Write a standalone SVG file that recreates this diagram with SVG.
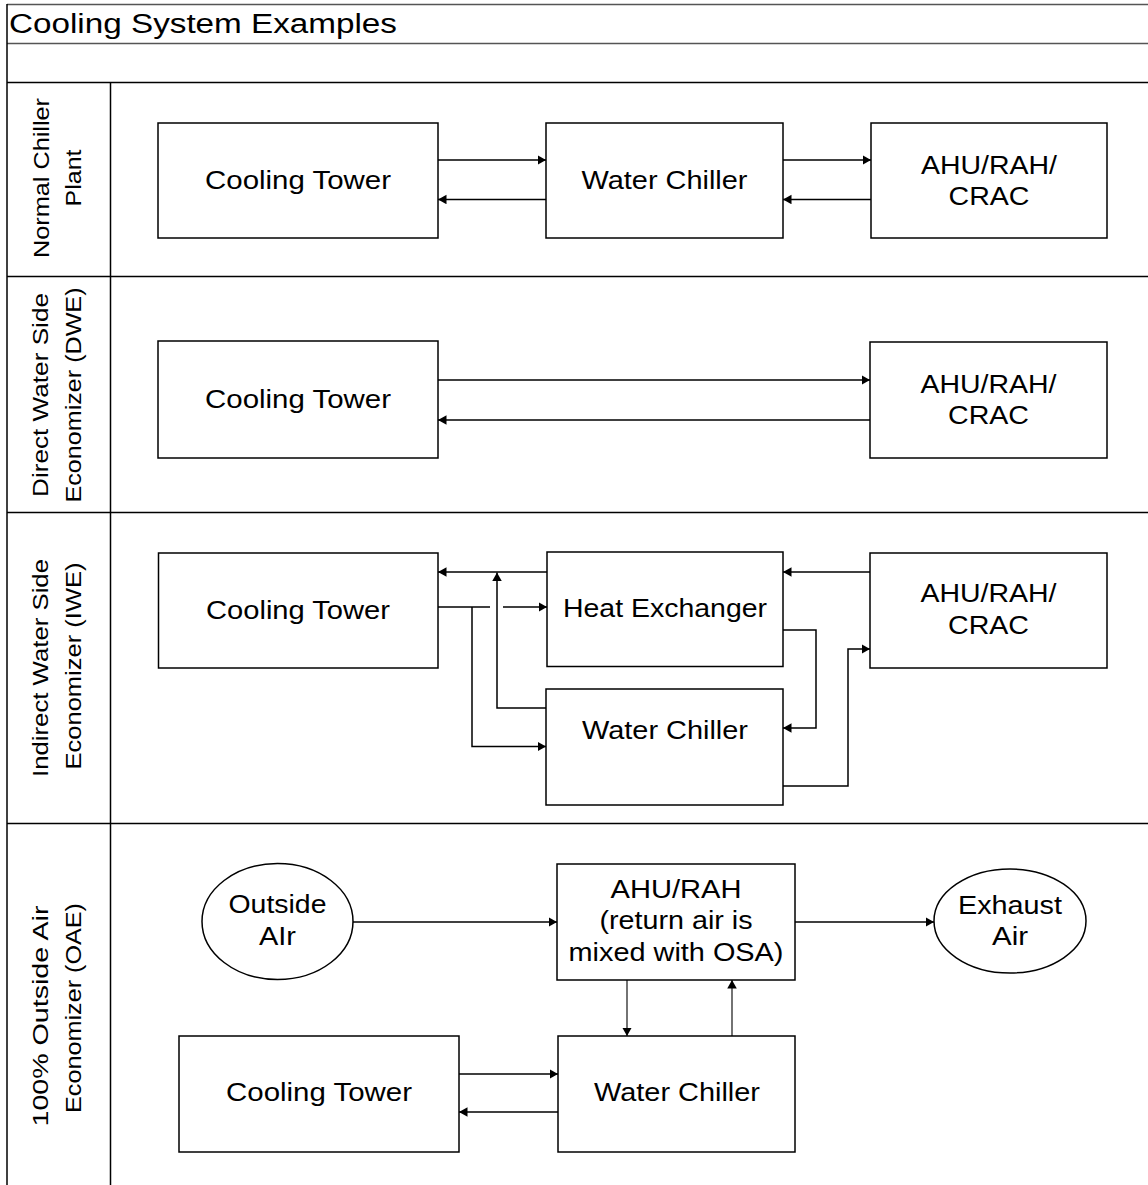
<svg xmlns="http://www.w3.org/2000/svg" width="1148" height="1185" viewBox="0 0 1148 1185">
<defs>
<marker id="ah" markerUnits="userSpaceOnUse" markerWidth="10" markerHeight="10" refX="8.5" refY="4.75" orient="auto">
<path d="M0,0 L8.5,4.75 L0,9.5 z" fill="#000"/>
</marker>
<style>
.frame{stroke:#000;stroke-width:1.5;fill:none}
.hdr{stroke:#555;stroke-width:1.5;fill:none}
.box{fill:#fff;stroke:#000;stroke-width:1.5}
.t{font-family:"Liberation Sans",Arial,sans-serif;font-size:25px;fill:#000;text-anchor:middle}
.lab{font-family:"Liberation Sans",Arial,sans-serif;font-size:22px;fill:#000;text-anchor:middle}
.title{font-family:"Liberation Sans",Arial,sans-serif;font-size:27px;fill:#000}
.c{stroke:#000;stroke-width:1.5;fill:none}
.c1{stroke:#000;stroke-width:1.1;fill:none}
</style>
</defs>
<rect width="1148" height="1185" fill="#fff"/>
<g id="frame">
<line class="hdr" x1="7" y1="4.5" x2="1148" y2="4.5"/>
<line class="hdr" x1="7" y1="43.5" x2="1148" y2="43.5"/>
<line class="frame" x1="7" y1="4" x2="7" y2="1185"/>
<line class="frame" x1="7" y1="82.5" x2="1148" y2="82.5"/>
<line class="frame" x1="110.5" y1="82.5" x2="110.5" y2="1185"/>
<line class="frame" x1="7" y1="276.5" x2="1148" y2="276.5"/>
<line class="frame" x1="7" y1="512.5" x2="1148" y2="512.5"/>
<line class="frame" x1="7" y1="823.5" x2="1148" y2="823.5"/>
<text class="title" x="9" y="32.5" textLength="388" lengthAdjust="spacingAndGlyphs">Cooling System Examples</text>
</g>
<g id="lane-labels">
<text class="lab" transform="translate(48.5,178) rotate(-90)" textLength="160" lengthAdjust="spacingAndGlyphs">Normal Chiller</text>
<text class="lab" transform="translate(81,178) rotate(-90)" textLength="57" lengthAdjust="spacingAndGlyphs">Plant</text>
<text class="lab" transform="translate(48,395) rotate(-90)" textLength="204" lengthAdjust="spacingAndGlyphs">Direct Water Side</text>
<text class="lab" transform="translate(81,395) rotate(-90)" textLength="215" lengthAdjust="spacingAndGlyphs">Economizer (DWE)</text>
<text class="lab" transform="translate(48,668) rotate(-90)" textLength="218" lengthAdjust="spacingAndGlyphs">Indirect Water Side</text>
<text class="lab" transform="translate(81,666) rotate(-90)" textLength="207" lengthAdjust="spacingAndGlyphs">Economizer (IWE)</text>
<text class="lab" transform="translate(48,1016) rotate(-90)" textLength="221" lengthAdjust="spacingAndGlyphs">100% Outside Air</text>
<text class="lab" transform="translate(81,1008) rotate(-90)" textLength="210" lengthAdjust="spacingAndGlyphs">Economizer (OAE)</text>
</g>
<g id="connectors">
<path class="c" d="M438,160 H546" marker-end="url(#ah)"/>
<path class="c" d="M546,199.5 H438" marker-end="url(#ah)"/>
<path class="c" d="M783,160 H871" marker-end="url(#ah)"/>
<path class="c" d="M871,199.5 H783" marker-end="url(#ah)"/>
<path class="c" d="M438,380 H870" marker-end="url(#ah)"/>
<path class="c" d="M870,420 H438" marker-end="url(#ah)"/>
<path class="c" d="M547,572 H438" marker-end="url(#ah)"/>
<path class="c" d="M546,708 H497 V572.5" marker-end="url(#ah)"/>
<path class="c" d="M438,607 H490"/>
<path class="c" d="M503,607 H547" marker-end="url(#ah)"/>
<path class="c" d="M472,607 V746.5 H546" marker-end="url(#ah)"/>
<path class="c" d="M783,630 H816 V728 H783" marker-end="url(#ah)"/>
<path class="c" d="M783,786 H848 V649 H870" marker-end="url(#ah)"/>
<path class="c" d="M870,572 H783" marker-end="url(#ah)"/>
<path class="c" d="M353,922 H557" marker-end="url(#ah)"/>
<path class="c" d="M795,922 H934" marker-end="url(#ah)"/>
<path class="c1" d="M627,980 V1036" marker-end="url(#ah)"/>
<path class="c1" d="M732,1036 V980" marker-end="url(#ah)"/>
<path class="c" d="M459,1074 H558" marker-end="url(#ah)"/>
<path class="c" d="M558,1112 H459" marker-end="url(#ah)"/>
</g>
<g id="ncp-cooling-tower">
<rect class="box" x="158" y="123" width="280" height="115"/>
<text class="t" x="298" y="189" textLength="186" lengthAdjust="spacingAndGlyphs">Cooling Tower</text>
</g>
<g id="ncp-water-chiller">
<rect class="box" x="546" y="123" width="237" height="115"/>
<text class="t" x="664.5" y="189" textLength="166" lengthAdjust="spacingAndGlyphs">Water Chiller</text>
</g>
<g id="ncp-ahu">
<rect class="box" x="871" y="123" width="236" height="115"/>
<text class="t" x="989" y="174" textLength="136" lengthAdjust="spacingAndGlyphs">AHU/RAH/</text>
<text class="t" x="989" y="205" textLength="81" lengthAdjust="spacingAndGlyphs">CRAC</text>
</g>
<g id="dwe-cooling-tower">
<rect class="box" x="158" y="341" width="280" height="117"/>
<text class="t" x="298" y="408" textLength="186" lengthAdjust="spacingAndGlyphs">Cooling Tower</text>
</g>
<g id="dwe-ahu">
<rect class="box" x="870" y="342" width="237" height="116"/>
<text class="t" x="988.5" y="393" textLength="136" lengthAdjust="spacingAndGlyphs">AHU/RAH/</text>
<text class="t" x="988.5" y="424" textLength="81" lengthAdjust="spacingAndGlyphs">CRAC</text>
</g>
<g id="iwe-cooling-tower">
<rect class="box" x="158.5" y="553" width="279.5" height="115"/>
<text class="t" x="298" y="619" textLength="184" lengthAdjust="spacingAndGlyphs">Cooling Tower</text>
</g>
<g id="iwe-heat-exchanger">
<rect class="box" x="547" y="552" width="236" height="114.5"/>
<text class="t" x="665" y="617" textLength="204" lengthAdjust="spacingAndGlyphs">Heat Exchanger</text>
</g>
<g id="iwe-water-chiller">
<rect class="box" x="546" y="689" width="237" height="116"/>
<text class="t" x="665" y="739" textLength="166" lengthAdjust="spacingAndGlyphs">Water Chiller</text>
</g>
<g id="iwe-ahu">
<rect class="box" x="870" y="553" width="237" height="115"/>
<text class="t" x="988.5" y="602" textLength="136" lengthAdjust="spacingAndGlyphs">AHU/RAH/</text>
<text class="t" x="988.5" y="634" textLength="81" lengthAdjust="spacingAndGlyphs">CRAC</text>
</g>
<g id="oae-outside-air">
<ellipse class="box" cx="277.5" cy="921.5" rx="75.5" ry="58"/>
<text class="t" x="277.5" y="913" textLength="98" lengthAdjust="spacingAndGlyphs">Outside</text>
<text class="t" x="277.5" y="945" textLength="37" lengthAdjust="spacingAndGlyphs">AIr</text>
</g>
<g id="oae-ahu">
<rect class="box" x="557" y="864" width="238" height="116"/>
<text class="t" x="676" y="897.5" textLength="131" lengthAdjust="spacingAndGlyphs">AHU/RAH</text>
<text class="t" x="676" y="929" textLength="153" lengthAdjust="spacingAndGlyphs">(return air is</text>
<text class="t" x="676" y="960.5" textLength="215" lengthAdjust="spacingAndGlyphs">mixed with OSA)</text>
</g>
<g id="oae-exhaust-air">
<ellipse class="box" cx="1010" cy="921" rx="76" ry="52"/>
<text class="t" x="1010" y="914" textLength="104" lengthAdjust="spacingAndGlyphs">Exhaust</text>
<text class="t" x="1010" y="945" textLength="36" lengthAdjust="spacingAndGlyphs">Air</text>
</g>
<g id="oae-cooling-tower">
<rect class="box" x="179" y="1036" width="280" height="116"/>
<text class="t" x="319" y="1101" textLength="186" lengthAdjust="spacingAndGlyphs">Cooling Tower</text>
</g>
<g id="oae-water-chiller">
<rect class="box" x="558" y="1036" width="237" height="116"/>
<text class="t" x="677" y="1101" textLength="166" lengthAdjust="spacingAndGlyphs">Water Chiller</text>
</g>
</svg>
